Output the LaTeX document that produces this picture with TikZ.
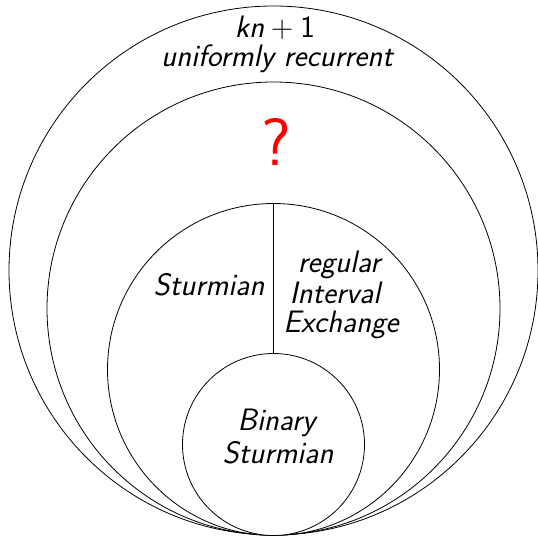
\documentclass[tikz,border=0pt]{standalone}
\usepackage{xcolor}
\tikzset{
  ring/.style={draw=black, line width=0.8pt},
  divider/.style={draw=black, line width=1.6pt},
  lbl/.style={inner sep=0pt, align=center, font=\fontsize{31}{36}\selectfont\sffamily\slshape},
  qmark/.style={inner sep=0pt, text=red, font=\fontsize{67}{78}\selectfont\sffamily}
}
\begin{document}
\begin{tikzpicture}[x=1pt,y=-1pt]
\useasboundingbox (0,0) rectangle (538,537);
\draw[ring] (273.5,270.5) circle (264.5);
\draw[ring] (273.5,308.5) circle (226.5);
\draw[ring] (273.5,369.5) circle (166);
\coordinate (ltop) at (273.5,203.5);
\coordinate (lbot) at (273.5,353.5);
\draw[divider] (ltop) -- (lbot);
\draw[ring, fill=white] (273.5,444.5) circle (91);
\node[lbl, anchor=base] (kn) at (275,38) {kn\hspace{0.22em}{\upshape+}\hspace{0.22em}{\upshape 1}};
\node[lbl, anchor=base] (ur) at (277,67) {uniformly recurrent};
\node[qmark, anchor=base] (q) at (276.5,166) {?};
\node[lbl, anchor=base] (st) at (209,296) {Sturmian};
\node[lbl, anchor=base] (ri) at (339,273) {regular};
\node[lbl, anchor=base] (iv) at (335,303) {Interval};
\node[lbl, anchor=base] (ex) at (341,332) {Exchange};
\node[lbl, anchor=base] (bi) at (276.5,430) {Binary};
\node[lbl, anchor=base] (bs) at (278,463) {Sturmian};
\end{tikzpicture}
\end{document}
